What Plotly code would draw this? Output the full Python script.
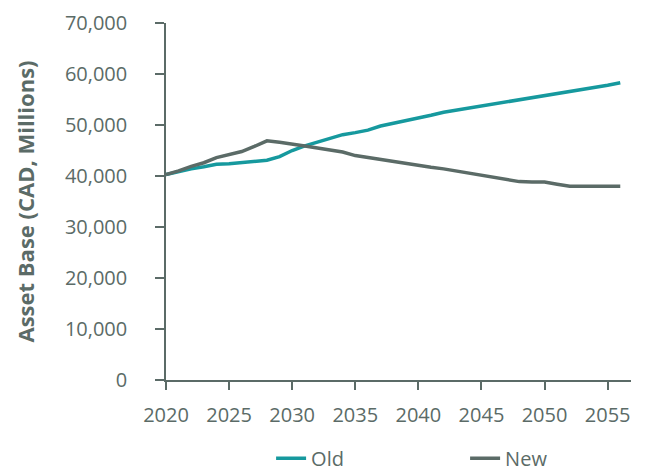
import plotly.graph_objects as go

years = list(range(2020, 2057))
old = [40300, 40900, 41400, 41800, 42300, 42400, 42600, 42900, 43100, 43800,
       45000, 45900, 46600, 47400, 48100, 48500, 49000, 49800, 50300, 50800,
       51300, 51900, 52500, 52900, 53400, 53800, 54200, 54600, 55000, 55400,
       55800, 56200, 56600, 57000, 57400, 57800, 58300]
new = [40300, 41000, 41900, 42600, 43600, 44200, 44800, 45800, 46900, 46600,
       46300, 45900, 45500, 45100, 44700, 44000, 43600, 43200, 42800, 42500,
       42100, 41700, 41400, 41000, 40600, 40200, 39800, 39400, 38900, 38800,
       38800, 38400, 38000, 38000, 38000, 38000, 38000]
x_ticks = [2020, 2025, 2030, 2035, 2040, 2045, 2050, 2055]
y_ticks = [0, 10000, 20000, 30000, 40000, 50000, 60000, 70000]

TEAL = "#16999e"
GRAY = "#5b6b67"
FONT = "Open Sans"

fig = go.Figure()
fig.add_trace(go.Scatter(x=years, y=old, mode="lines", name="Old",
                         line=dict(color=TEAL, width=3.5)))
fig.add_trace(go.Scatter(x=years, y=new, mode="lines", name="New",
                         line=dict(color=GRAY, width=3.5)))

fig.update_layout(
    width=648, height=474,
    margin=dict(l=158, r=25, t=15, b=102, autoexpand=False),
    paper_bgcolor="white", plot_bgcolor="white",
    font=dict(family=FONT, color=GRAY, size=20),
    showlegend=True,
    legend=dict(orientation="h", x=0.226, xanchor="left", y=-0.274, yanchor="bottom",
                font=dict(size=20, color=GRAY), entrywidth=149,
                bgcolor="rgba(0,0,0,0)"),
    xaxis=dict(range=[2020, 2056.85], tickvals=x_ticks, showgrid=False,
               zeroline=False, showline=True, linecolor=GRAY, linewidth=1.5,
               ticks="outside", ticklen=8, tickcolor=GRAY, tickwidth=1.5,
               tickfont=dict(size=20, color=GRAY), ticklabelstandoff=8,
               automargin=False),
    yaxis=dict(range=[0, 70000], tickvals=y_ticks, tickformat=",d", showgrid=False,
               zeroline=False, showline=True, linecolor=GRAY, linewidth=1.5,
               ticks="outside", ticklen=9, tickcolor=GRAY, tickwidth=1.5,
               tickfont=dict(size=20, color=GRAY), ticklabelstandoff=24,
               automargin=False,
               title=dict(text="<b>Asset Base (CAD, Millions)</b>",
                          font=dict(size=22, color=GRAY), standoff=24)),
)

fig.write_html("out.html")
